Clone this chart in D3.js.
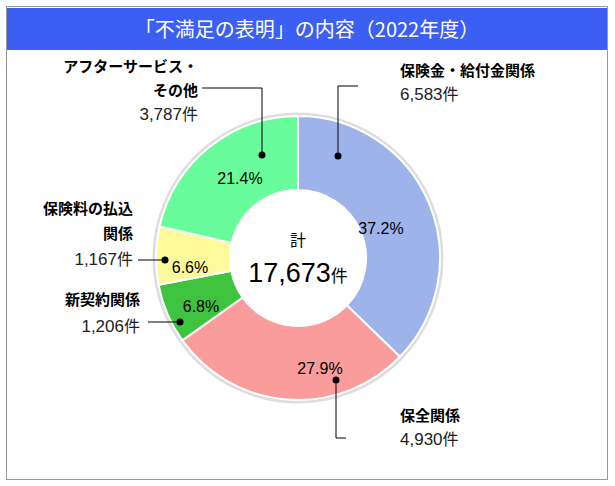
<!DOCTYPE html>
<html>
<head>
<meta charset="utf-8">
<script src="https://d3js.org/d3.v7.min.js"></script>
<style>
body{margin:0;background:#fff;}
text{font-family:"Liberation Sans","Noto Sans CJK JP",sans-serif;}
.jp{font-family:"Noto Sans CJK JP",sans-serif;}
</style>
</head>
<body>
<svg width="615" height="486"></svg>
<script>
var categories = ["保険金・給付金関係", "保全関係", "新契約関係", "保険料の払込関係", "アフターサービス・その他"];
var counts = [6583, 4930, 1206, 1167, 3787];
var percents = ["37.2%", "27.9%", "6.8%", "6.6%", "21.4%"];
var colors = ["#9db3ea", "#fa9c9c", "#3ec43e", "#fdfa9c", "#68fc9c"];
var total = "17,673";

var svg = d3.select("svg");
svg.append("rect").attr("x", 6.5).attr("y", 6.5).attr("width", 601).attr("height", 473)
  .attr("fill", "#fff").attr("stroke", "#999");
svg.append("rect").attr("x", 7).attr("y", 8).attr("width", 600).attr("height", 42).attr("fill", "#3b5ff2");
svg.append("text").attr("class", "jp").attr("x", 307).attr("y", 37).attr("text-anchor", "middle")
  .attr("fill", "#fff").attr("font-size", 20).text("「不満足の表明」の内容（2022年度）");

var cx = 298, cy = 258, R = 142, r = 68;
var g = svg.append("g").attr("transform", "translate(" + cx + "," + cy + ")");
var pie = d3.pie().sort(null).value(function(d){ return d; });
var arcs = pie(counts);
var arc = d3.arc().innerRadius(r).outerRadius(R);
g.append("circle").attr("r", R + 2).attr("fill", "none").attr("stroke", "#ddd").attr("stroke-width", 3);
g.selectAll("path").data(arcs).enter().append("path")
  .attr("d", arc).attr("fill", function(d, i){ return colors[i]; })
  .attr("stroke", "#fff").attr("stroke-width", 2);

var pctPos = [[83, -30], [22, 110], [-97, 48], [-108, 9], [-58, -80]];
g.selectAll(".pct").data(arcs).enter().append("text")
  .attr("x", function(d, i){ return pctPos[i][0]; })
  .attr("y", function(d, i){ return pctPos[i][1]; })
  .attr("text-anchor", "middle").attr("font-size", 16).attr("dy", "0.35em")
  .text(function(d, i){ return percents[i]; });

g.append("text").attr("class", "jp").attr("x", 0).attr("y", -12).attr("text-anchor", "middle").attr("font-size", 16).text("計");
var tt = g.append("text").attr("x", 0).attr("y", 24).attr("text-anchor", "middle");
tt.append("tspan").attr("font-size", 27).text(total);
tt.append("tspan").attr("class", "jp").attr("font-size", 17).text("件");

// leaders: dot (relative to centre), elbow path, label
var leaders = [
  {dot:[40,-102], pts:[[40,-172],[60,-172]], lx:400, ly:[76], ax:"start", cy:100, name:["保険金・給付金関係"]},
  {dot:[38,122], pts:[[38,180],[48,180]], lx:400, ly:[421], ax:"start", cy:445, name:["保全関係"]},
  {dot:[-118,64], pts:[[-150,64]], lx:140, ly:[305], ax:"end", cy:332, name:["新契約関係"]},
  {dot:[-133,2], pts:[[-160,2]], lx:133, ly:[214,239], ax:"end", cy:265, name:["保険料の払込","関係"]},
  {dot:[-36,-103], pts:[[-36,-170],[-96,-170]], lx:198, ly:[72,96], ax:"end", cy:120, name:["アフターサービス・","その他"]}
];
leaders.forEach(function(l, i){
  var p = [l.dot].concat(l.pts).map(function(q){ return [cx + q[0], cy + q[1]]; });
  svg.append("path").attr("d", d3.line()(p)).attr("fill", "none").attr("stroke", "#000").attr("stroke-width", 1);
  svg.append("circle").attr("cx", p[0][0]).attr("cy", p[0][1]).attr("r", 3.5).attr("fill", "#000");
  l.name.forEach(function(s, j){
    svg.append("text").attr("class", "jp").attr("x", l.lx).attr("y", l.ly[j]).attr("text-anchor", l.ax)
      .attr("font-size", 15).attr("font-weight", "bold").text(s);
  });
  var t = svg.append("text").attr("x", l.lx).attr("y", l.cy).attr("text-anchor", l.ax)
    .attr("font-size", 17).attr("fill", "#222");
  t.append("tspan").text(d3.format(",")(counts[i]));
  t.append("tspan").attr("class", "jp").attr("font-size", 16).text("件");
});
</script>
</body>
</html>
